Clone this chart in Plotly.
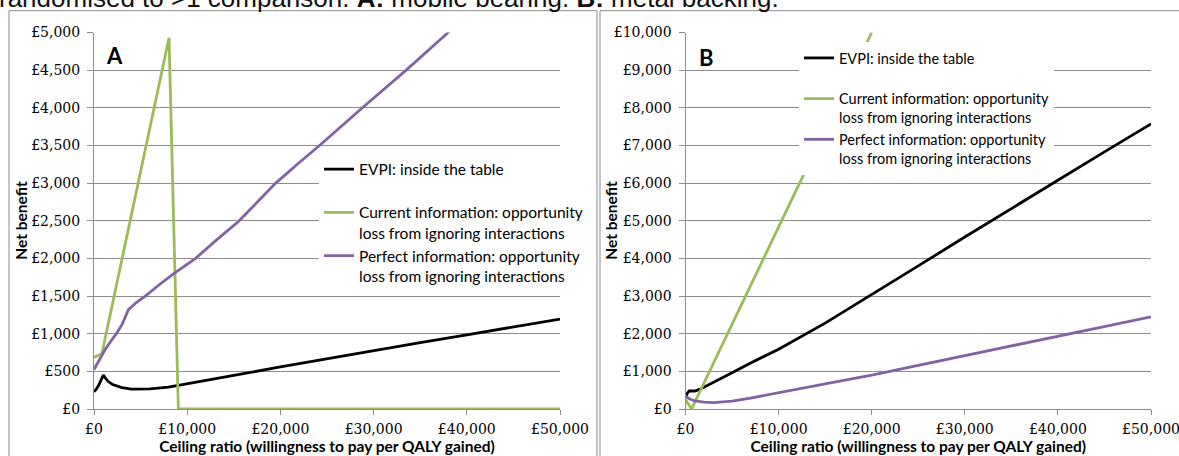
import plotly.graph_objects as go

W, H = 1179, 456

# ---------------- data ----------------
x_ticks = [0, 10000, 20000, 30000, 40000, 50000]
x_tick_labels = ["£0", "£10,000", "£20,000", "£30,000", "£40,000", "£50,000"]
series_names = [
    "EVPI: inside the table<br> ",
    "Current information: opportunity<br>loss from ignoring interactions",
    "Perfect information: opportunity<br>loss from ignoring interactions",
]
series_colors = ["#000000", "#9BBB59", "#8064A2"]

# Panel A: mobile bearing
evpi_a_x = [0, 250, 500, 750, 1000, 1250, 1500, 2000, 2500, 3000, 4000, 5000, 6000,
            8000, 10000, 15000, 20000, 25000, 30000, 35000, 40000, 45000, 50000]
evpi_a_y = [230, 262, 315, 385, 450, 405, 368, 325, 300, 285, 265, 263, 268,
            290, 333, 445, 560, 670, 775, 880, 985, 1090, 1195]
current_a_x = [0, 850, 8050, 9050, 50000]
current_a_y = [685, 735, 4930, 0, 0]
perfect_a_x = [0, 600, 1200, 1800, 2400, 3000, 3700, 4500, 5500, 7000, 8600, 10900,
               13000, 15500, 17500, 19500, 22000, 24200, 28800, 33500, 38000, 44000, 50000]
perfect_a_y = [525, 660, 790, 900, 1000, 1120, 1320, 1410, 1500, 1650, 1800, 2000,
               2230, 2490, 2740, 3000, 3270, 3500, 4000, 4500, 5000, 5650, 6300]

# Panel B: metal backing
evpi_b_x = [0, 200, 400, 1000, 1500, 2000, 3000, 5000, 7000, 10000, 15000, 20000,
            25000, 30000, 35000, 40000, 45000, 50000]
evpi_b_y = [300, 420, 478, 478, 520, 580, 710, 960, 1220, 1590, 2280, 3030,
            3800, 4570, 5330, 6090, 6830, 7570]
current_b_x = [0, 650, 20000]
current_b_y = [250, 0, 10000]
perfect_b_x = [0, 500, 1000, 2000, 3000, 4000, 5000, 7000, 10000, 15000, 20000,
               25000, 30000, 35000, 40000, 45000, 50000]
perfect_b_y = [340, 260, 215, 180, 170, 180, 210, 290, 440, 670, 900,
               1160, 1420, 1690, 1950, 2200, 2450]

caption = "randomised to >1 comparison. <b>A:</b> mobile bearing. <b>B:</b> metal backing."
x_title = "Ceiling ratio (willingness to pay per QALY gained)"
y_title = "Net benefit"

# ---------------- figure ----------------
SANS = "Lato"
SERIF = "DejaVu Serif"
GRID = "#8c8c8c"

fig = go.Figure()

panel_a = [(evpi_a_x, evpi_a_y), (current_a_x, current_a_y), (perfect_a_x, perfect_a_y)]
panel_b = [(evpi_b_x, evpi_b_y), (current_b_x, current_b_y), (perfect_b_x, perfect_b_y)]

for i, (xs, ys) in enumerate(panel_a):
    fig.add_trace(go.Scatter(
        x=xs, y=ys, mode="lines", name=series_names[i],
        line=dict(color=series_colors[i], width=2.8),
        xaxis="x", yaxis="y", legend="legend", legendgroup=f"a{i}",
    ))
for i, (xs, ys) in enumerate(panel_b):
    fig.add_trace(go.Scatter(
        x=xs, y=ys, mode="lines", name=series_names[i],
        line=dict(color=series_colors[i], width=2.8),
        xaxis="x2", yaxis="y2", legend="legend2", legendgroup=f"b{i}",
    ))

ydom = [1 - 409 / H, 1 - 32.5 / H]

def xaxis_cfg(domain, anchor):
    return dict(
        domain=domain, anchor=anchor, range=[0, 50000],
        tickmode="array", tickvals=x_ticks, ticktext=x_tick_labels,
        showgrid=False, zeroline=False,
        showline=True, linecolor=GRID, linewidth=1,
        ticks="outside", ticklen=5, tickcolor=GRID, tickwidth=1,
        ticklabelstandoff=2, ticklabeloverflow="allow",
        tickfont=dict(family=SERIF, size=14, color="#000"),
        title=dict(text=f"<b>{x_title}</b>", font=dict(family=SANS, size=15.5, color="#000"),
                   standoff=1),
        automargin=False, fixedrange=True,
    )

def yaxis_cfg(domain, anchor, top, step):
    return dict(
        domain=domain, anchor=anchor, range=[0, top], dtick=step,
        tickprefix="£", showtickprefix="all", tickformat=",.0f",
        showgrid=True, gridcolor=GRID, gridwidth=1,
        zeroline=False, showline=True, linecolor=GRID, linewidth=1,
        ticks="outside", ticklen=6, tickcolor=GRID, tickwidth=1,
        ticklabelstandoff=4, ticklabeloverflow="allow",
        tickfont=dict(family=SERIF, size=14, color="#000"),
        automargin=False, fixedrange=True,
    )

legend_common = dict(
    xanchor="left", yanchor="top", bgcolor="#ffffff", borderwidth=0,
    valign="top", tracegroupgap=0, itemwidth=30,
    itemclick=False, itemdoubleclick=False,
)

ytitle_font = dict(family=SANS, size=15.5, color="#000")

fig.update_layout(
    width=W, height=H, margin=dict(l=0, r=0, t=0, b=0),
    paper_bgcolor="#ffffff", plot_bgcolor="#ffffff",
    showlegend=True,
    xaxis=xaxis_cfg([94 / W, 560 / W], "y"),
    yaxis=yaxis_cfg(ydom, "x", 5000, 500),
    xaxis2=xaxis_cfg([685.5 / W, 1151 / W], "y2"),
    yaxis2=yaxis_cfg(ydom, "x2", 10000, 1000),
    legend=dict(x=319 / W, y=1 - 152.5 / H,
                font=dict(family=SANS, size=15.5, color="#000"), **legend_common),
    legend2=dict(x=799 / W, y=1 - 42 / H,
                 font=dict(family=SANS, size=14.5, color="#000"), **legend_common),
    shapes=[
        dict(type="rect", xref="paper", yref="paper", x0=9 / W, x1=597 / W,
             y0=-0.05, y1=1 - 10.7 / H, line=dict(color="#8a8a8a", width=1)),
        dict(type="rect", xref="paper", yref="paper", x0=600 / W, x1=1.02,
             y0=-0.05, y1=1 - 10.7 / H, line=dict(color="#8a8a8a", width=1)),
    ],
    annotations=[
        dict(text=caption, xref="paper", yref="paper", x=-3 / W, y=1 + 2 / H,
             xanchor="left", yanchor="middle", showarrow=False,
             font=dict(family="Liberation Sans", size=26, color="#111")),
        dict(text="<b>A</b>", xref="paper", yref="paper", x=114 / W, y=1 - 56 / H,
             xanchor="center", yanchor="middle", showarrow=False,
             font=dict(family=SANS, size=22, color="#000")),
        dict(text="<b>B</b>", xref="paper", yref="paper", x=706 / W, y=1 - 57.5 / H,
             xanchor="center", yanchor="middle", showarrow=False,
             font=dict(family=SANS, size=22, color="#000")),
        dict(text=f"<b>{y_title}</b>", xref="paper", yref="paper", x=21 / W,
             y=sum(ydom) / 2, xanchor="center", yanchor="middle", textangle=-90,
             showarrow=False, font=ytitle_font),
        dict(text=f"<b>{y_title}</b>", xref="paper", yref="paper", x=611 / W,
             y=sum(ydom) / 2, xanchor="center", yanchor="middle", textangle=-90,
             showarrow=False, font=ytitle_font),
    ],
)

fig.write_html("out.html")
